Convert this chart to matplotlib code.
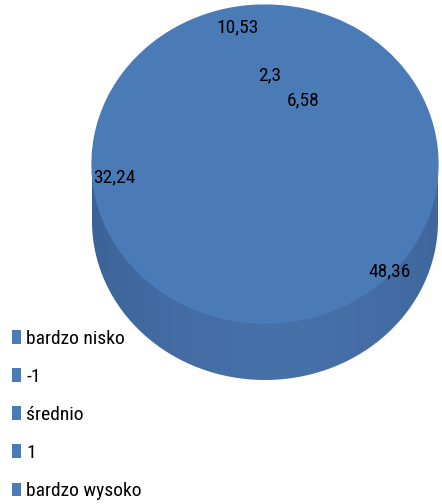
import numpy as np
import matplotlib
matplotlib.use("Agg")
import matplotlib.pyplot as plt
from matplotlib import font_manager as fm
from matplotlib.patches import Patch, Polygon
from matplotlib.colors import to_rgb

available = {f.name for f in fm.fontManager.ttflist}
wanted = ['Liberation Sans Narrow', 'Arial Narrow', 'Roboto Condensed',
          'PT Sans Narrow', 'Archivo Narrow', 'Liberation Sans', 'DejaVu Sans']
plt.rcParams['font.family'] = [f for f in wanted if f in available]

# ---- data ----
categories = ["bardzo nisko", "-1", "średnio", "1", "bardzo wysoko"]
values = [10.53, 2.3, 6.58, 32.24, 48.36]
value_labels = ["10,53", "2,3", "6,58", "32,24", "48,36"]

# ---- layout (pixel geometry of the reference) ----
W, H = 442, 504
cx, cy = 265, 164          # centre of the top face (px)
rx, ry = 173, 159          # half axes of the top face (px)
depth_px = 57              # thickness of the 3D side (px)
label_px = [(238, 27), (270, 75), (303, 100), (114, 177), (390, 271)]

top_color = "#4A7BB7"
seam_color = "#4F80BC"
side_left = "#3A6195"
side_mid = "#4671A9"
side_right = "#3F679D"

fig = plt.figure(figsize=(W / 100, H / 100), dpi=100)
ax = fig.add_axes([0, 0, 1, 1])

def to_unit(px, py):
    return (px - cx) / rx, (cy - py) / ry

# side of the cylinder
d = depth_px / ry
t = np.linspace(np.pi, 2 * np.pi, 200)
upper = np.column_stack([np.cos(t), np.sin(t)])
lower = np.column_stack([np.cos(t[::-1]), np.sin(t[::-1]) - d])
side_poly = Polygon(np.vstack([upper, lower]), closed=True, facecolor="none",
                    edgecolor="none")
ax.add_patch(side_poly)
xs = np.linspace(-1, 1, 400)
c_l, c_m, c_r = map(np.array, map(to_rgb, [side_left, side_mid, side_right]))
grad = np.empty((1, len(xs), 3))
for i, x in enumerate(xs):
    if x < 0:
        f = (x + 1) ** 0.5
        grad[0, i] = c_l * (1 - f) + c_m * f
    else:
        f = x ** 2
        grad[0, i] = c_m * (1 - f) + c_r * f
im = ax.imshow(grad, extent=(-1, 1, -1 - d, 0), aspect="auto", zorder=1,
               interpolation="bilinear")
im.set_clip_path(side_poly)

# top face
wedges, _ = ax.pie(values, startangle=57, counterclock=True, radius=1,
                   center=(0, 0), colors=[top_color] * len(values),
                   wedgeprops=dict(edgecolor=top_color, linewidth=0.9),
                   frame=True)
for w in wedges:
    w.set_zorder(2)

# very faint seams between slices, as in the reference
angles = 57 + np.concatenate([[0], np.cumsum(values)])[:-1] / np.sum(values) * 360
for a in np.deg2rad(angles):
    ax.plot([0, np.cos(a)], [0, np.sin(a)], color=seam_color, lw=0.4,
            zorder=3, alpha=0.5)

for lab, (px, py) in zip(value_labels, label_px):
    ux, uy = to_unit(px, py)
    ax.text(ux, uy, lab, ha="center", va="center", fontsize=14,
            color="black", zorder=5)

ax.set_aspect("auto")
x0, y0 = to_unit(0, 0)
x1, y1 = to_unit(W, H)
ax.set_xlim(x0, x1)
ax.set_ylim(y1, y0)
ax.axis("off")

handles = [Patch(facecolor=top_color, edgecolor="none") for _ in categories]
leg = fig.legend(handles, categories, loc="upper left",
                 bbox_to_anchor=(12 / W, 1 - 330 / H), frameon=False,
                 fontsize=14, handlelength=0.45, handleheight=0.7,
                 handletextpad=0.28, labelspacing=1.03, borderpad=0,
                 borderaxespad=0)

fig.savefig("out.png", dpi=100)
